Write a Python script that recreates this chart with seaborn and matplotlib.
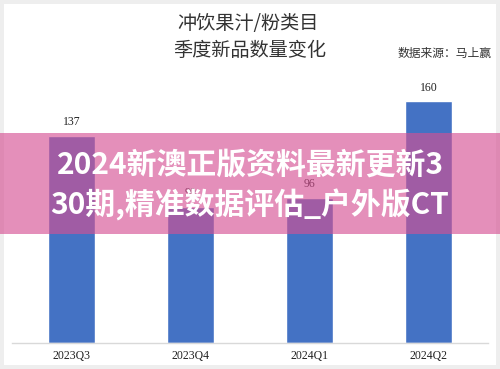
import matplotlib
matplotlib.use("Agg")
import matplotlib.pyplot as plt
from matplotlib.patches import Rectangle
import pandas as pd
import seaborn as sns

# chart data
quarters = ["2023Q3", "2023Q4", "2024Q1", "2024Q2"]
new_items = [137, 90, 96, 160]
title_lines = ["冲饮果汁/粉类目", "季度新品数量变化"]
source_text = "数据来源：马上赢"
banner_lines = ["2024新澳正版资料最新更新3", "30期,精准数据评估_户外版CT"]

df = pd.DataFrame({"quarter": quarters, "count": new_items})

sns.set_theme(style="white")
plt.rcParams['font.family'] = ['Noto Sans CJK SC', 'DejaVu Sans']

W, H = 500, 369
fig = plt.figure(figsize=(5, 3.69), dpi=100, facecolor="#eeeeee")

# white inner panel with thin grey frame
fig.patches.append(Rectangle((4 / W, 4 / H), 492 / W, 361 / H, transform=fig.transFigure,
                             facecolor="white", edgecolor="none", zorder=-1))

ax = fig.add_axes([12 / W, 26 / H, 476 / W, 272 / H])
ax.set_facecolor("none")
sns.barplot(data=df, x="quarter", y="count", color="#4472c4", width=0.395,
            saturation=1, ax=ax)
ax.set_xlim(-0.5, 3.5)
ax.set_ylim(0, 180)

for i, v in enumerate(new_items):
    ax.text(i, v + 5, str(v), ha="center", va="bottom", fontsize=8.5,
            family="Liberation Serif", color="#222222")

for s in ["top", "right", "left"]:
    ax.spines[s].set_visible(False)
ax.spines["bottom"].set_color("#d9d9d9")
ax.spines["bottom"].set_linewidth(1)
ax.set_yticks([])
ax.set_xlabel("")
ax.set_ylabel("")
ax.tick_params(axis="x", length=0, pad=5)
for lab in ax.get_xticklabels():
    lab.set_family("Liberation Serif")
    lab.set_fontsize(8.5)
    lab.set_color("#222222")

# titles
fig.text(248 / W, 1 - 23 / H, title_lines[0], ha="center", va="center",
         fontsize=13.8, color="#333333")
fig.text(250 / W, 1 - 50 / H, title_lines[1], ha="center", va="center",
         fontsize=13.8, color="#333333")
fig.text(445 / W, 1 - 53 / H, source_text, ha="center", va="center",
         fontsize=8.5, color="#333333")

# pink overlay banner
fig.patches.append(Rectangle((0, 1 - 234 / H), 1, 101 / H, transform=fig.transFigure,
                             facecolor=(213 / 255, 80 / 255, 147 / 255), alpha=0.64,
                             edgecolor="none", zorder=5))
fig.text(0.5, 1 - 165 / H, banner_lines[0], ha="center", va="center",
         fontsize=21.5, fontweight="bold", color="white", zorder=6)
fig.text(0.5, 1 - 205 / H, banner_lines[1], ha="center", va="center",
         fontsize=21.5, fontweight="bold", color="white", zorder=6)

fig.savefig("out.png", dpi=100, facecolor=fig.get_facecolor())
